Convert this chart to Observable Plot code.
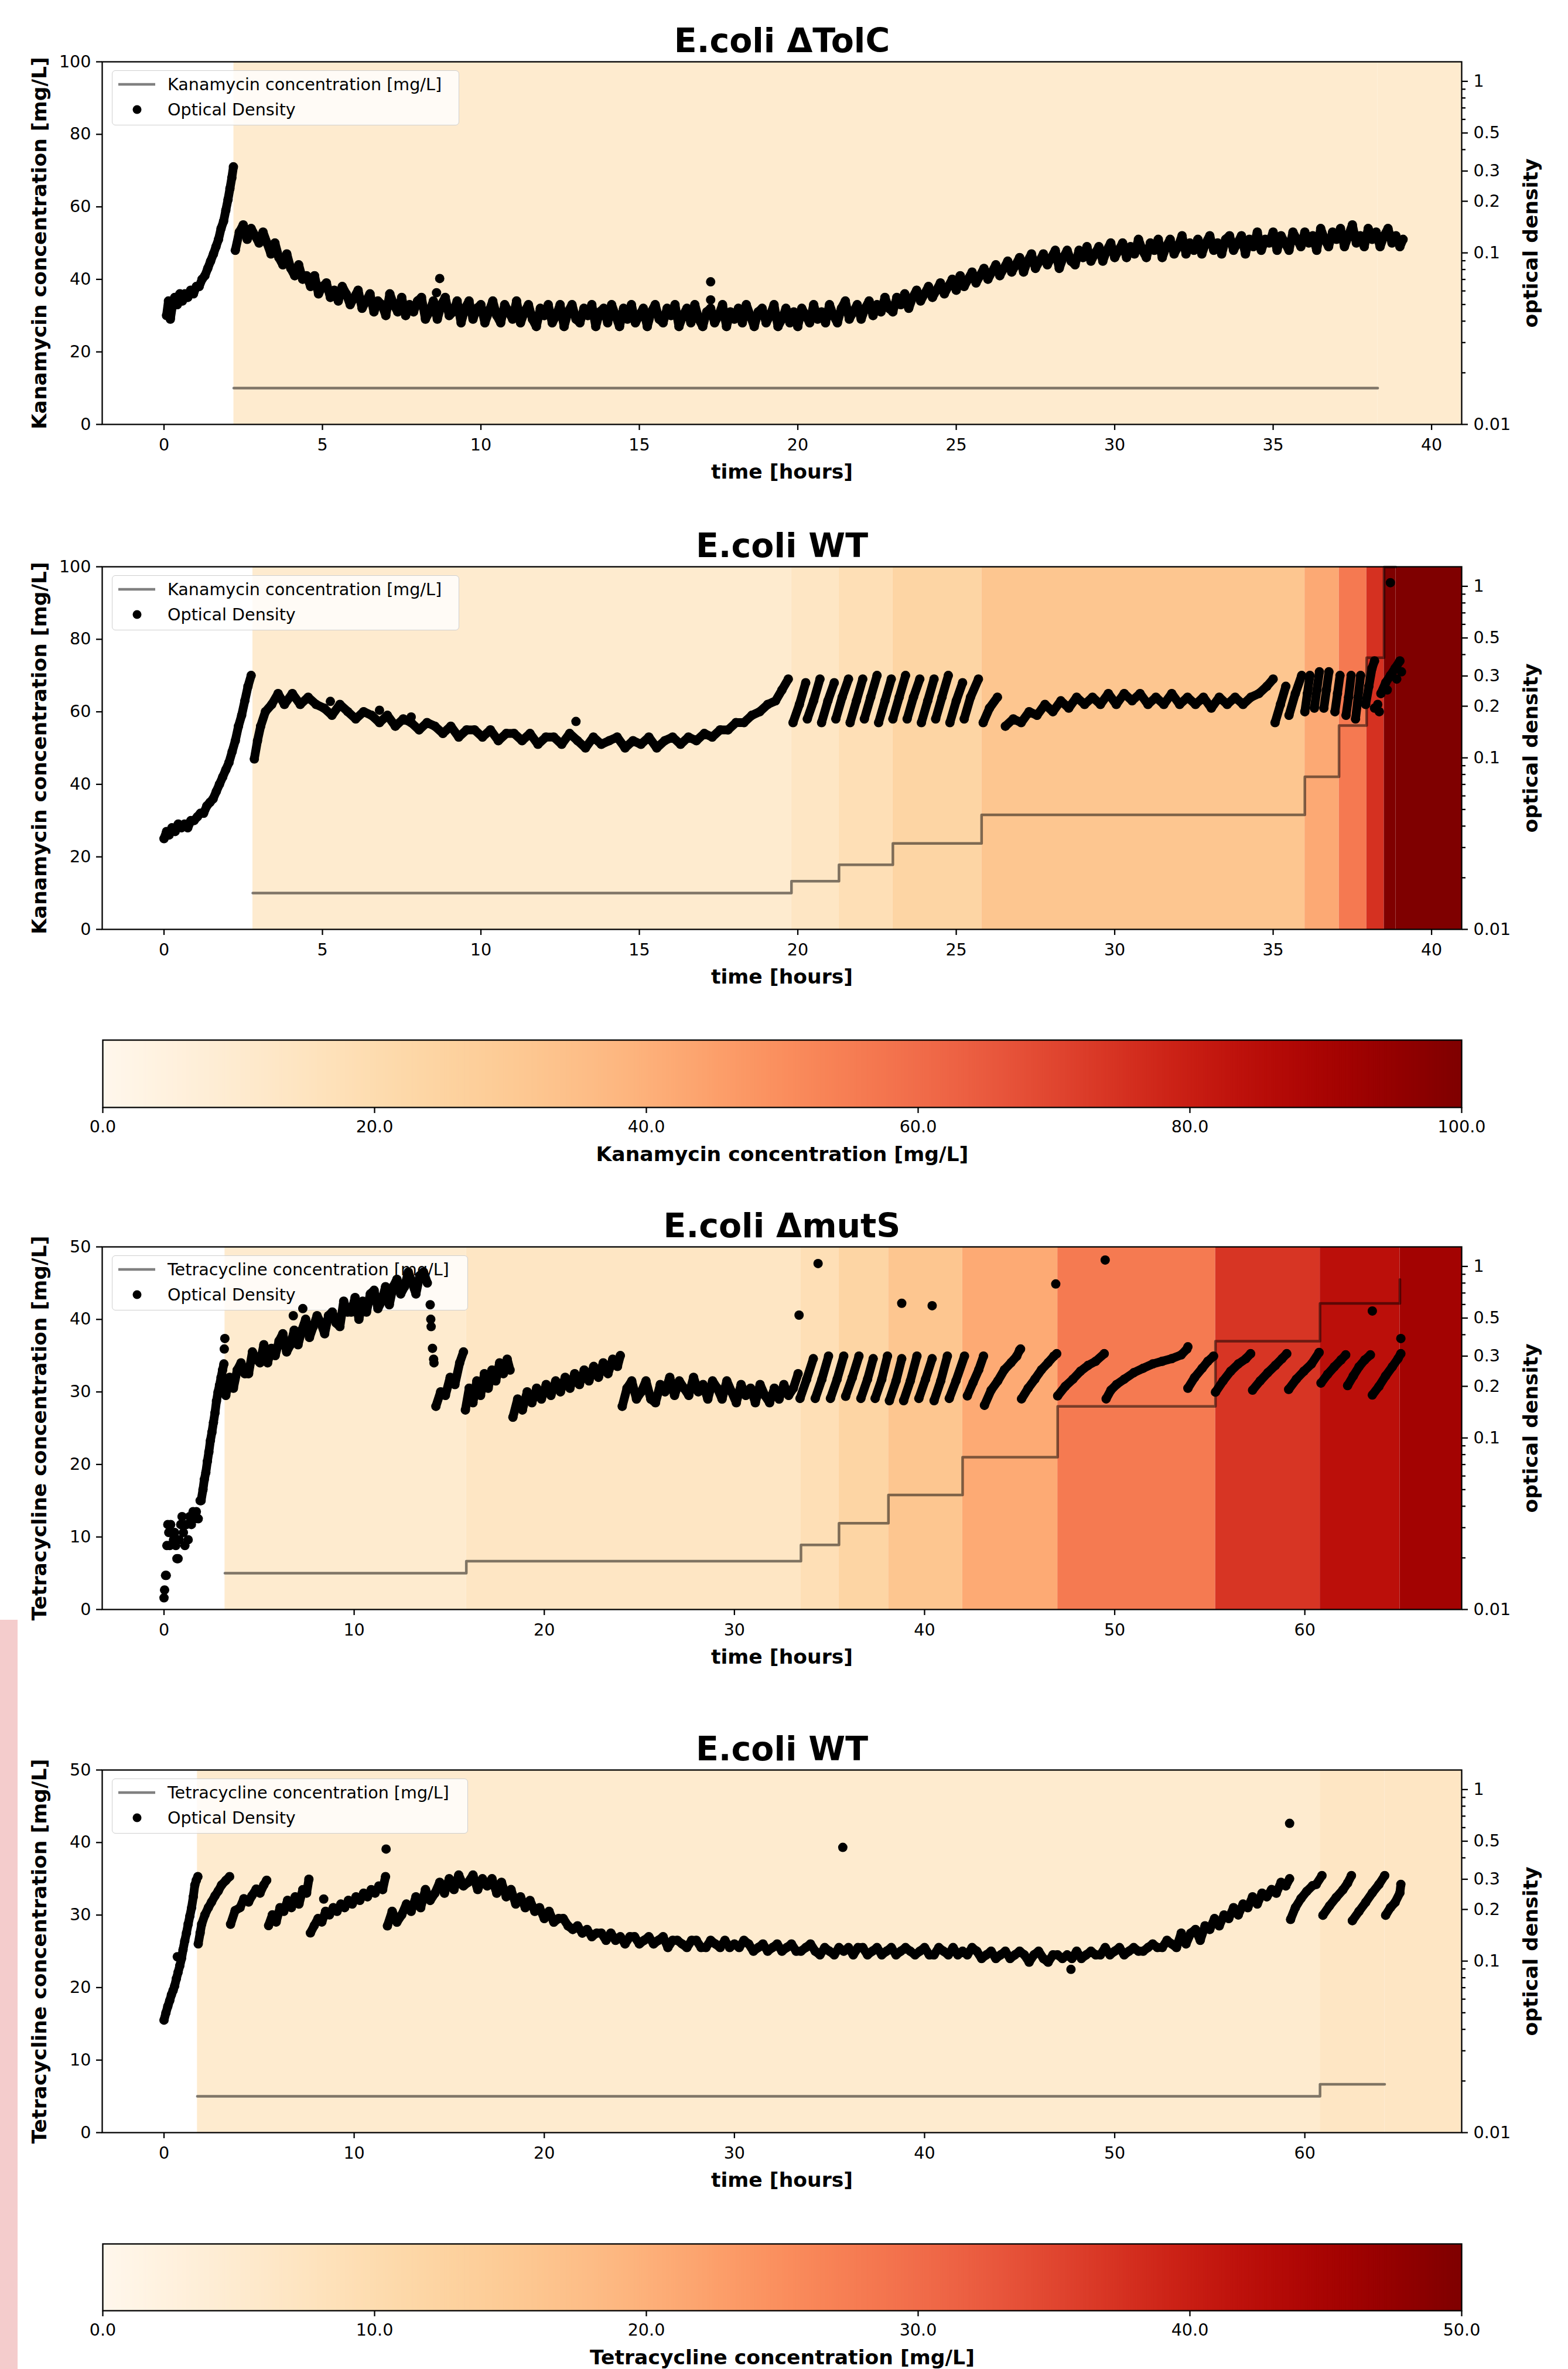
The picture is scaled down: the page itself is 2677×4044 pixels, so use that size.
<!DOCTYPE html>
<html><head><meta charset="utf-8">
<script src="https://cdn.jsdelivr.net/npm/d3@7"></script>
<script src="https://cdn.jsdelivr.net/npm/@observablehq/plot@0.6"></script>
<style>
html,body{margin:0;padding:0;background:#fff;width:2677px;height:4044px;overflow:hidden;font-family:"DejaVu Sans",sans-serif;}
#root{position:relative;width:2677px;height:4044px;overflow:hidden;}
.panel{position:absolute;left:0;width:2677px;}
.panel>svg,.panel>div.lg{position:absolute;}
.lg{background:rgba(255,255,255,0.8);border:1.5px solid #cfcfcf;border-radius:6px;box-sizing:border-box;}
#pink{position:absolute;left:0;top:2765px;width:30px;height:1279px;background:#f4cccc;}
</style></head>
<body><div id="root"><div id="pink"></div></div>
<script>
// ---------------- DATA ----------------
const ticksKanTime = [0, 5, 10, 15, 20, 25, 30, 35, 40];
const ticksTetTime = [0, 10, 20, 30, 40, 50, 60];
const ticksKanConc = [0, 20, 40, 60, 80, 100];
const ticksTetConc = [0, 10, 20, 30, 40, 50];
const ticksOD = [0.01, 0.1, 0.2, 0.3, 0.5, 1];
const ticksODMinor = [0.02, 0.03, 0.04, 0.05, 0.06, 0.07, 0.08, 0.09, 0.4, 0.6, 0.7, 0.8, 0.9];
const ticksCbKan = [0, 20, 40, 60, 80, 100];
const ticksCbTet = [0, 10, 20, 30, 40, 50];

// antibiotic concentration steps: start time [hours] / concentration [mg/L]
const tolcStepTimes = [2.2, 38.3];
const tolcStepConc  = [10, 10];
const wtKanStepTimes = [2.8, 19.8, 21.3, 23.0, 25.8, 36.0, 37.08, 37.95, 38.5, 38.87];
const wtKanStepConc  = [10, 13.3, 17.8, 23.7, 31.6, 42.1, 56.2, 74.9, 99.9, 99.9];
const mutsStepTimes = [3.2, 15.9, 33.5, 35.5, 38.1, 42.0, 47.0, 55.3, 60.8, 65.0];
const mutsStepConc  = [5, 6.67, 8.9, 11.9, 15.8, 21.0, 28.0, 37.0, 42.2, 45.5];
const wtTetStepTimes = [1.75, 60.8, 64.2];
const wtTetStepConc  = [5, 6.67, 6.67];

// optical density readings [hours, OD], grouped in runs between dilutions
const odTolCRuns = [
 [[0.08,.0431],[0.14,.0524],[0.2,.0411],[0.27,.0499],[0.34,.055],[0.42,.0499],[0.5,.0577],[0.58,.0524],[0.66,.0577],[0.75,.055],[0.84,.0606],[0.93,.0577],[1.02,.0637],[1.11,.0637],[1.2,.0702],[1.29,.0736],[1.38,.0812],[1.47,.0895],[1.56,.0986],[1.64,.1087],[1.72,.1199],[1.8,.1387],[1.88,.1529],[1.95,.177],[2.02,.2048],[2.08,.237],[2.14,.2742],[2.19,.3173]],
 [[2.25,.1035],[2.375,.1321],[2.5,.1456],[2.625,.1199],[2.75,.1387],[2.875,.1259],[3.0,.1142],[3.125,.1321],[3.25,.1142],[3.375,.0986],[3.5,.1142],[3.625,.0939],[3.75,.0852],[3.875,.0986],[4.0,.0812],[4.125,.0736],[4.25,.0852],[4.375,.0702],[4.5,.0736],[4.625,.0637],[4.75,.0736],[4.875,.0577],[5.0,.0637],[5.125,.0668],[5.25,.055],[5.375,.0606],[5.5,.0524],[5.625,.0637],[5.75,.0577],[5.875,.0499],[6.0,.055],[6.125,.0606],[6.25,.0475],[6.375,.0524],[6.5,.0577],[6.625,.0453],[6.75,.0524],[6.875,.0499],[7.0,.0431],[7.125,.0577],[7.25,.0499],[7.375,.0453],[7.5,.055],[7.625,.0431],[7.75,.0499],[7.875,.0453],[8.0,.0524],[8.125,.055],[8.25,.0411],[8.375,.0453],[8.5,.0524],[8.625,.0411],[8.75,.0499],[8.875,.055],[9.0,.0431],[9.125,.0453],[9.25,.0524],[9.375,.0391],[9.5,.0475],[9.625,.0524],[9.75,.0411],[9.875,.0475],[10.0,.0499],[10.125,.0391],[10.25,.0453],[10.375,.0524],[10.5,.0431],[10.625,.0391],[10.75,.0499],[10.875,.0453],[11.0,.0411],[11.125,.0524],[11.25,.0391],[11.375,.0453],[11.5,.0499],[11.625,.0411],[11.75,.0372],[11.875,.0475],[12.0,.0431],[12.125,.0499],[12.25,.0391],[12.375,.0431],[12.5,.0499],[12.625,.0372],[12.75,.0453],[12.875,.0499],[13.0,.0411],[13.125,.0391],[13.25,.0475],[13.375,.0431],[13.5,.0499],[13.625,.0372],[13.75,.0453],[13.875,.0475],[14.0,.0391],[14.125,.0499],[14.25,.0431],[14.375,.0372],[14.5,.0475],[14.625,.0411],[14.75,.0499],[14.875,.0391],[15.0,.0431],[15.125,.0475],[15.25,.0372],[15.375,.0453],[15.5,.0499],[15.625,.0411],[15.75,.0391],[15.875,.0475],[16.0,.0431],[16.125,.0499],[16.25,.0372],[16.375,.0431],[16.5,.0475],[16.625,.0391],[16.75,.0499],[16.875,.0411],[17.0,.0372],[17.125,.0453],[17.25,.0475],[17.375,.0391],[17.5,.0431],[17.625,.0499],[17.75,.0372],[17.875,.0453],[18.0,.0411],[18.125,.0475],[18.25,.0391],[18.375,.0499],[18.5,.0431],[18.625,.0372],[18.75,.0453],[18.875,.0475],[19.0,.0391],[19.125,.0431],[19.25,.0499],[19.375,.0372],[19.5,.0411],[19.625,.0475],[19.75,.0391],[19.875,.0453],[20.0,.0372],[20.125,.0475],[20.25,.0431],[20.375,.0391],[20.5,.0499],[20.625,.0411],[20.75,.0453],[20.875,.0391],[21.0,.0499],[21.125,.0431],[21.25,.0391],[21.375,.0475],[21.5,.0524],[21.625,.0411],[21.75,.0453],[21.875,.0499],[22.0,.0411],[22.125,.0475],[22.25,.0524],[22.375,.0431],[22.5,.0499],[22.625,.0453],[22.75,.055],[22.875,.0475],[23.0,.0453],[23.125,.055],[23.25,.0499],[23.375,.0577],[23.5,.0475],[23.625,.055],[23.75,.0606],[23.875,.0524],[24.0,.0577],[24.125,.0637],[24.25,.055],[24.375,.0606],[24.5,.0668],[24.625,.0577],[24.75,.0637],[24.875,.0702],[25.0,.0606],[25.125,.0736],[25.25,.0637],[25.375,.0702],[25.5,.0773],[25.625,.0668],[25.75,.0736],[25.875,.0812],[26.0,.0702],[26.125,.0773],[26.25,.0852],[26.375,.0736],[26.5,.0812],[26.625,.0895],[26.75,.0773],[26.875,.0852],[27.0,.0939],[27.125,.0773],[27.25,.0895],[27.375,.0986],[27.5,.0812],[27.625,.0895],[27.75,.0986],[27.875,.0852],[28.0,.0939],[28.125,.1035],[28.25,.0812],[28.375,.0939],[28.5,.1035],[28.625,.0895],[28.75,.0852],[28.875,.1035],[29.0,.0939],[29.125,.1087],[29.25,.0895],[29.375,.0986],[29.5,.1087],[29.625,.0895],[29.75,.1035],[29.875,.1142],[30.0,.0939],[30.125,.1035],[30.25,.1142],[30.375,.0939],[30.5,.1087],[30.625,.0986],[30.75,.1199],[30.875,.1035],[31.0,.0939],[31.125,.1142],[31.25,.1035],[31.375,.1199],[31.5,.0939],[31.625,.1087],[31.75,.1199],[31.875,.0986],[32.0,.1087],[32.125,.1259],[32.25,.0986],[32.375,.1142],[32.5,.1035],[32.625,.1199],[32.75,.0986],[32.875,.1142],[33.0,.1259],[33.125,.1035],[33.25,.1142],[33.375,.0986],[33.5,.1199],[33.625,.1259],[33.75,.1035],[33.875,.1142],[34.0,.1259],[34.125,.0986],[34.25,.1199],[34.375,.1087],[34.5,.1321],[34.625,.1035],[34.75,.1199],[34.875,.1142],[35.0,.1321],[35.125,.1035],[35.25,.1259],[35.375,.1142],[35.5,.1035],[35.625,.1321],[35.75,.1199],[35.875,.1087],[36.0,.1321],[36.125,.1142],[36.25,.1259],[36.375,.1035],[36.5,.1387],[36.625,.1199],[36.75,.1087],[36.875,.1321],[37.0,.1199],[37.125,.1387],[37.25,.1087],[37.375,.1259],[37.5,.1456],[37.625,.1142],[37.75,.1259],[37.875,.1087],[38.0,.1387],[38.125,.1199],[38.25,.1321],[38.375,.1087],[38.5,.1259],[38.625,.1387],[38.75,.1142],[38.875,.1259],[39.0,.1087],[39.1,.1199]]
];
const odTolCSingles = [[8.6,.0586],[8.7,.0709],[17.25,.0532],[17.25,.0678]];

const odWTKanRuns = [
 [[0,.0338],[0.08,.0372],[0.16,.0355],[0.25,.0391],[0.35,.0372],[0.45,.0411],[0.55,.0391],[0.65,.0411],[0.75,.0391],[0.85,.0431],[0.95,.0431],[1.05,.0453],[1.15,.0475],[1.25,.0475],[1.35,.0524],[1.45,.055],[1.55,.0577],[1.65,.0637],[1.75,.0702],[1.85,.0773],[1.95,.0852],[2.05,.0939],[2.15,.1087],[2.25,.1259],[2.35,.1529],[2.45,.177],[2.55,.215],[2.65,.2612],[2.75,.3022]],
 [[2.85,.0986],[2.95,.1259],[3.05,.1529],[3.2,.1858],[3.4,.2048],[3.6,.237],[3.8,.2048],[4.05,.237],[4.3,.2048],[4.55,.2257],[4.8,.2048],[5.05,.195],[5.3,.177],[5.55,.2048],[5.8,.1858],[6.05,.1686],[6.3,.1858],[6.55,.177],[6.8,.1605],[7.05,.177],[7.3,.1529],[7.55,.1686],[7.8,.1605],[8.05,.1456],[8.3,.1605],[8.55,.1529],[8.8,.1387],[9.05,.1529],[9.3,.1321],[9.55,.1456],[9.8,.1456],[10.05,.1321],[10.3,.1456],[10.55,.1259],[10.8,.1387],[11.05,.1387],[11.3,.1259],[11.55,.1387],[11.8,.1199],[12.05,.1321],[12.3,.1321],[12.55,.1199],[12.8,.1387],[13.05,.1259],[13.3,.1142],[13.55,.1321],[13.8,.1199],[14.05,.1259],[14.3,.1321],[14.55,.1142],[14.8,.1259],[15.05,.1199],[15.3,.1321],[15.55,.1142],[15.8,.1259],[16.05,.1321],[16.3,.1199],[16.55,.1321],[16.8,.1259],[17.05,.1387],[17.3,.1321],[17.55,.1456],[17.8,.1456],[18.05,.1605],[18.3,.1605],[18.55,.177],[18.8,.1858],[19.05,.2048],[19.3,.215],[19.5,.2488],[19.7,.2879]],
 [[19.85,.1605],[20.05,.2048],[20.25,.2742]],
 [[20.3,.1686],[20.5,.215],[20.7,.2879]],
 [[20.75,.1605],[20.95,.215],[21.15,.2742]],
 [[21.2,.1686],[21.4,.2257],[21.6,.2879]],
 [[21.65,.1605],[21.85,.215],[22.05,.2879]],
 [[22.1,.1686],[22.3,.2257],[22.5,.3022]],
 [[22.55,.1605],[22.75,.215],[22.95,.2879]],
 [[23.0,.1686],[23.2,.2257],[23.4,.3022]],
 [[23.45,.1686],[23.65,.2257],[23.85,.2879]],
 [[23.9,.1605],[24.1,.215],[24.3,.2879]],
 [[24.35,.1686],[24.55,.2257],[24.75,.3022]],
 [[24.8,.1605],[25.0,.215],[25.2,.2742]],
 [[25.25,.1686],[25.45,.2257],[25.7,.2879]],
 [[25.85,.1605],[26.05,.195],[26.3,.2257]],
 [[26.55,.1529],[26.8,.1686],[27.05,.1605],[27.3,.1858],[27.55,.177],[27.8,.2048],[28.05,.1858],[28.3,.215],[28.55,.195],[28.8,.2257],[29.05,.2048],[29.3,.2257],[29.55,.2048],[29.8,.237],[30.05,.2048],[30.3,.237],[30.55,.215],[30.8,.237],[31.05,.2048],[31.3,.2257],[31.55,.2048],[31.8,.237],[32.05,.2048],[32.3,.2257],[32.55,.2048],[32.8,.2257],[33.05,.195],[33.3,.2257],[33.55,.2048],[33.8,.2257],[34.05,.2048],[34.3,.2257],[34.55,.237],[34.8,.2612],[35.0,.2879]],
 [[35.06,.1605],[35.23,.2048],[35.4,.2612]],
 [[35.5,.177],[35.7,.237],[35.9,.3022]],
 [[36.0,.1858],[36.08,.237],[36.16,.3022]],
 [[36.3,.195],[36.38,.2488],[36.46,.3173]],
 [[36.6,.195],[36.68,.2488],[36.76,.3173]],
 [[36.95,.1858],[37.03,.237],[37.11,.3022]],
 [[37.3,.177],[37.38,.2257],[37.46,.3022]],
 [[37.6,.1686],[37.68,.2257],[37.76,.3022]],
 [[37.92,.2048],[38.02,.2612],[38.12,.3331],[38.2,.3672]],
 [[38.4,.237],[38.55,.2742],[38.7,.3022],[38.85,.3331],[39.0,.3672]]
];
const odWTKanSingles = [[5.25,.2133],[6.8,.1895],[7.8,.173],[13.0,.163],[38.2,.195],[38.3,.2048],[38.35,.1858],[38.6,.2488],[38.9,.2879],[39.05,.3173],[38.7,1.05]];

const odMutSRuns = [
 [[1.95,.0431],[2.05,.05],[2.12,.0572],[2.2,.063],[2.28,.073],[2.36,.083],[2.44,.0966],[2.52,.108],[2.6,.123],[2.68,.14],[2.76,.164],[2.84,.185],[2.92,.203],[3.0,.225],[3.08,.249],[3.15,.27]],
 [[3.25,.177],[3.45,.2257],[3.65,.195],[3.85,.2488],[4.05,.2742],[4.25,.237],[4.45,.237],[4.65,.3173],[4.85,.2879],[5.05,.2742],[5.25,.3497],[5.45,.2742],[5.65,.3331],[5.85,.3022],[6.05,.3672],[6.25,.405],[6.45,.3173],[6.65,.3497],[6.85,.425],[7.05,.3497],[7.25,.425],[7.45,.492],[7.65,.3855],[7.85,.446],[8.05,.516],[8.25,.468],[8.45,.405],[8.65,.516],[8.85,.542],[9.05,.468],[9.25,.446],[9.45,.627],[9.65,.542],[9.85,.542],[10.05,.659],[10.25,.492],[10.45,.627],[10.65,.542],[10.85,.691],[11.05,.726],[11.25,.568],[11.45,.627],[11.65,.762],[11.85,.598],[12.05,.762],[12.25,.841],[12.45,.691],[12.65,.762],[12.85,.927],[13.05,.801],[13.25,.691],[13.45,.883],[13.65,.927],[13.85,.801]],
 [[14.3,.1529],[14.55,.1858],[14.8,.177],[15.05,.2257],[15.3,.2048],[15.55,.2742],[15.75,.3173]],
 [[15.85,.1456],[16.05,.195],[16.25,.1605],[16.45,.215],[16.65,.177],[16.85,.237],[17.05,.195],[17.25,.2488],[17.45,.215],[17.65,.2742],[17.85,.237],[18.05,.2879],[18.2,.2488]],
 [[18.35,.1321],[18.6,.1686],[18.85,.1456],[19.1,.1858],[19.35,.1605],[19.6,.195],[19.85,.1686],[20.1,.2048],[20.35,.177],[20.6,.215],[20.85,.1858],[21.1,.2257],[21.35,.195],[21.6,.237],[21.85,.2048],[22.1,.2488],[22.35,.215],[22.6,.2612],[22.85,.2257],[23.1,.2742],[23.35,.237],[23.6,.2879],[23.85,.2612],[24.0,.3022]],
 [[24.1,.1529],[24.35,.195],[24.6,.215],[24.85,.1686],[25.1,.1858],[25.35,.215],[25.6,.1686],[25.85,.1605],[26.1,.2048],[26.35,.1858],[26.6,.2257],[26.85,.177],[27.1,.215],[27.35,.195],[27.6,.177],[27.85,.2257],[28.1,.1858],[28.35,.2048],[28.6,.1686],[28.85,.215],[29.1,.195],[29.35,.1686],[29.6,.215],[29.85,.1858],[30.1,.1605],[30.35,.2048],[30.6,.177],[30.85,.195],[31.1,.1605],[31.35,.2048],[31.6,.177],[31.85,.1605],[32.1,.195],[32.35,.1686],[32.6,.2048],[32.85,.177],[33.1,.195],[33.35,.237]],
 [[33.45,.17],[33.8,.22],[34.15,.29]],
 [[34.25,.17],[34.6,.22],[34.95,.30]],
 [[35.05,.17],[35.4,.22],[35.75,.30]],
 [[35.85,.175],[36.2,.225],[36.55,.30]],
 [[36.65,.17],[37.0,.22],[37.3,.29]],
 [[37.4,.17],[37.75,.22],[38.05,.30]],
 [[38.15,.165],[38.5,.215],[38.8,.29]],
 [[38.9,.165],[39.25,.215],[39.6,.30]],
 [[39.7,.17],[40.05,.22],[40.4,.29]],
 [[40.5,.165],[40.85,.215],[41.2,.30]],
 [[41.3,.17],[41.65,.215],[42.1,.30]],
 [[42.25,.176],[42.55,.21],[42.85,.25],[43.1,.30]],
 [[43.15,.155],[43.5,.19],[43.85,.215],[44.2,.25],[44.55,.275],[44.85,.30],[45.0,.325]],
 [[45.1,.169],[45.45,.195],[45.8,.22],[46.15,.25],[46.5,.275],[46.8,.30],[46.95,.31]],
 [[47.0,.176],[47.4,.2],[47.8,.22],[48.2,.245],[48.6,.265],[49.0,.28],[49.45,.31]],
 [[49.55,.169],[49.8,.19],[50.1,.205],[50.5,.22],[51.0,.24],[51.5,.255],[52.0,.27],[52.5,.28],[53.0,.29],[53.5,.305],[53.8,.33]],
 [[53.85,.195],[54.2,.225],[54.6,.255],[54.9,.28],[55.2,.30]],
 [[55.3,.185],[55.7,.215],[56.1,.245],[56.5,.27],[56.9,.29],[57.15,.31]],
 [[57.25,.19],[57.65,.215],[58.05,.24],[58.45,.265],[58.8,.29],[59.05,.31]],
 [[59.15,.192],[59.55,.22],[59.95,.245],[60.35,.27],[60.75,.315]],
 [[60.85,.209],[61.2,.235],[61.55,.26],[61.9,.285],[62.15,.305]],
 [[62.25,.202],[62.55,.23],[62.85,.26],[63.15,.285],[63.45,.305]],
 [[63.55,.178],[63.9,.2],[64.25,.23],[64.6,.26],[64.9,.29],[65.05,.31]]
];
const odMutSSingles = [[0,.0117],[0.03,.013],[0.08,.0158],[0.12,.0158],[0.15,.0236],[0.2,.0313],[0.25,.0281],[0.3,.0236],[0.35,.0313],[0.42,.0281],[0.5,.0255],[0.56,.0281],[0.62,.0236],[0.68,.0198],[0.74,.0198],[0.8,.0255],[0.88,.0313],[0.95,.0348],[1.02,.0281],[1.1,.0236],[1.18,.0313],[1.27,.0255],[1.35,.0348],[1.44,.0313],[1.53,.0372],[1.62,.0338],[1.7,.0372],[1.8,.0338],[1.9,.0431],[3.17,.33],[3.2,.38],[6.8,.516],[7.3,.568],[14.0,.598],[14.03,.492],[14.05,.446],[14.12,.333],[14.18,.288],[14.2,.2742],[33.4,.52],[34.4,1.04],[38.8,.61],[40.4,.59],[45.05,.33],[46.9,.79],[49.5,1.09],[53.85,.34],[63.55,.55],[65.05,.38]];

const odWTTetRuns = [
 [[0,.0453],[0.1,.0499],[0.2,.0545],[0.3,.0588],[0.39,.0637],[0.48,.0675],[0.56,.0716],[0.65,.079],[0.74,.086],[0.83,.0939],[0.92,.1035],[1.0,.1164],[1.09,.131],[1.18,.1456],[1.27,.164],[1.36,.183],[1.45,.2048],[1.54,.237],[1.62,.277],[1.7,.296],[1.78,.311]],
 [[1.8,.126],[1.9,.146],[1.98,.164],[2.15,.186],[2.33,.205],[2.5,.221],[2.68,.24],[2.85,.256],[3.03,.278],[3.25,.295],[3.45,.311]],
 [[3.5,.164],[3.74,.197],[4.0,.205],[4.2,.231],[4.45,.221],[4.62,.24],[4.85,.263],[5.05,.249],[5.25,.278],[5.4,.296]],
 [[5.5,.161],[5.7,.186],[5.9,.169],[6.1,.205],[6.3,.195],[6.5,.226],[6.7,.205],[6.9,.237],[7.1,.215],[7.3,.261],[7.5,.249],[7.62,.30]],
 [[7.7,.146],[7.9,.161],[8.1,.177],[8.3,.169],[8.5,.195],[8.7,.186],[8.9,.205],[9.1,.195],[9.3,.215],[9.5,.205],[9.7,.226],[9.9,.215],[10.1,.237],[10.3,.226],[10.5,.249],[10.7,.237],[10.9,.261],[11.1,.249],[11.3,.274],[11.5,.261],[11.65,.311]],
 [[11.75,.1605],[12.0,.195],[12.25,.1686],[12.5,.1858],[12.75,.215],[13.0,.195],[13.25,.237],[13.5,.2048],[13.75,.2612],[14.0,.2257],[14.25,.2488],[14.5,.2879],[14.75,.2488],[15.0,.3022],[15.25,.2612],[15.5,.3173],[15.75,.2742],[16.0,.2879],[16.25,.3173],[16.5,.2612],[16.75,.3022],[17.0,.2742],[17.25,.3022],[17.5,.2488],[17.75,.2879],[18.0,.237],[18.25,.2612],[18.5,.215],[18.75,.237],[19.0,.2048],[19.25,.2257],[19.5,.195],[19.75,.2048],[20.0,.177],[20.25,.195],[20.5,.1686],[20.75,.177],[21.0,.177],[21.25,.1605],[21.5,.1529],[21.75,.1605],[22.0,.1456],[22.25,.1529],[22.5,.1387],[22.75,.1456],[23.0,.1456],[23.25,.1321],[23.5,.1456],[23.75,.1321],[24.0,.1387],[24.25,.1259],[24.5,.1387],[24.75,.1387],[25.0,.1259],[25.25,.1321],[25.5,.1387],[25.75,.1259],[26.0,.1321],[26.25,.1387],[26.5,.1199],[26.75,.1321],[27.0,.1321],[27.25,.1259],[27.5,.1199],[27.75,.1321],[28.0,.1321],[28.25,.1199],[28.5,.1199],[28.75,.1321],[29.0,.1259],[29.25,.1199],[29.5,.1321],[29.75,.1199],[30.0,.1259],[30.25,.1199],[30.5,.1321],[30.75,.1259],[31.0,.1142],[31.25,.1199],[31.5,.1259],[31.75,.1142],[32.0,.1199],[32.25,.1259],[32.5,.1142],[32.75,.1199],[33.0,.1259],[33.25,.1142],[33.5,.1142],[33.75,.1199],[34.0,.1259],[34.25,.1142],[34.5,.1087],[34.75,.1199],[35.0,.1142],[35.25,.1087],[35.5,.1199],[35.75,.1142],[36.0,.1199],[36.25,.1087],[36.5,.1199],[36.75,.1199],[37.0,.1087],[37.25,.1142],[37.5,.1199],[37.75,.1087],[38.0,.1142],[38.25,.1199],[38.5,.1087],[38.75,.1142],[39.0,.1199],[39.25,.1142],[39.5,.1087],[39.75,.1142],[40.0,.1199],[40.25,.1087],[40.5,.1087],[40.75,.1199],[41.0,.1142],[41.25,.1087],[41.5,.1199],[41.75,.1087],[42.0,.1142],[42.25,.1087],[42.5,.1199],[42.75,.1142],[43.0,.1035],[43.25,.1087],[43.5,.1142],[43.75,.1035],[44.0,.1087],[44.25,.1142],[44.5,.1035],[44.75,.1087],[45.0,.1142],[45.25,.1087],[45.5,.0986],[45.75,.1087],[46.0,.1142],[46.25,.1035],[46.5,.0986],[46.75,.1087],[47.0,.1087],[47.25,.1035],[47.5,.1087],[47.75,.1035],[48.0,.1142],[48.25,.1035],[48.5,.1087],[48.75,.1142],[49.0,.1087],[49.25,.1087],[49.5,.1199],[49.75,.1087],[50.0,.1142],[50.25,.1199],[50.5,.1087],[50.75,.1142],[51.0,.1199],[51.25,.1142],[51.5,.1142],[51.75,.1199],[52.0,.1259],[52.25,.1199],[52.5,.1199],[52.75,.1321],[53.0,.1259],[53.25,.1199],[53.5,.1456],[53.75,.1259],[54.0,.1456],[54.25,.1529],[54.5,.1321],[54.75,.1605],[55.0,.1529],[55.25,.177],[55.5,.1605],[55.75,.1858],[56.0,.177],[56.25,.2048],[56.5,.1858],[56.75,.215],[57.0,.2048],[57.25,.237],[57.5,.215],[57.75,.2488],[58.0,.237],[58.25,.2612],[58.5,.2488],[58.75,.2879],[59.0,.2742],[59.2,.3022]],
 [[59.25,.175],[59.5,.205],[59.8,.232],[60.1,.255],[60.4,.275],[60.6,.28],[60.9,.315]],
 [[60.95,.185],[61.3,.21],[61.65,.235],[62.0,.26],[62.25,.285],[62.45,.315]],
 [[62.5,.172],[62.85,.195],[63.2,.22],[63.55,.25],[63.9,.28],[64.2,.315]],
 [[64.25,.185],[64.5,.205],[64.75,.22],[65.0,.25],[65.05,.28]]
];
const odWTTetSingles = [[0.7,.106],[8.4,.23],[11.68,.45],[35.7,.46],[47.7,.0895],[59.2,.635]];

// ---------------- LAYOUT ----------------
const W = 2677, ML = 174, MR = 182, FH = 619, MT = 110, MB = 120, H = MT + FH + MB;
const FONT = "DejaVu Sans, sans-serif";
const root = document.getElementById("root");

function flatten(runs) {
  const out = [];
  runs.forEach((run, i) => run.forEach(([t, od]) => out.push({t, od, run: i})));
  return out;
}

function panel(cfg) {
  const div = document.createElement("div");
  div.className = "panel";
  div.style.top = (cfg.top - MT) + "px";
  div.style.height = H + "px";
  const patches = cfg.stepTimes.map((t, i) => ({
    x1: t, x2: i < cfg.stepTimes.length - 1 ? cfg.stepTimes[i + 1] : cfg.xDomain[1], c: cfg.stepConc[i]
  }));
  const steps = cfg.stepTimes.map((t, i) => ({t, c: cfg.stepConc[i]}));
  const base = Plot.plot({
    width: W, height: H, marginLeft: ML, marginRight: MR, marginTop: MT, marginBottom: MB,
    style: {fontFamily: FONT, background: "transparent", overflow: "visible", color: "black"},
    x: {domain: cfg.xDomain},
    y: {domain: [0, cfg.concMax]},
    color: {type: "linear", scheme: "OrRd", domain: [0, cfg.concMax]},
    marks: [
      Plot.rect(patches, {x1: "x1", x2: "x2", y1: 0, y2: cfg.concMax, fill: "c"}),
      Plot.line(steps, {x: "t", y: "c", curve: "step-after", stroke: "black", strokeOpacity: 0.5, strokeWidth: 4.5}),
      Plot.frame({stroke: "black", strokeWidth: 2.3}),
      Plot.axisX({ticks: cfg.xTicks, tickFormat: d => String(d), tickSize: 10, tickPadding: 14, fontSize: 28.6, strokeWidth: 2.3, label: null}),
      Plot.axisY({ticks: cfg.concTicks, tickFormat: d => String(d), tickSize: 10, tickPadding: 9, fontSize: 28.6, strokeWidth: 2.3, label: null}),
      Plot.text([cfg.title], {text: d => d, frameAnchor: "top", dy: -17, lineAnchor: "bottom", textAnchor: "middle", fontSize: 57, fontWeight: "bold"}),
      Plot.text(["time [hours]"], {text: d => d, frameAnchor: "bottom", dy: 81, textAnchor: "middle", lineAnchor: "middle", fontSize: 34.6, fontWeight: "bold"}),
      Plot.text([cfg.concLabel], {text: d => d, frameAnchor: "left", dx: -107, rotate: -90, textAnchor: "middle", lineAnchor: "middle", fontSize: 34.6, fontWeight: "bold"})
    ]
  });
  base.style.left = "0px"; base.style.top = "0px";
  div.appendChild(base);

  const lg = document.createElement("div");
  lg.className = "lg";
  lg.style.left = "191px"; lg.style.top = (MT + 15) + "px";
  lg.style.width = cfg.legendWidth + "px"; lg.style.height = "94px";
  lg.innerHTML = `<svg width="${cfg.legendWidth}" height="94" style="position:absolute;left:0;top:0;overflow:visible" font-family="DejaVu Sans" font-size="28.6">
    <line x1="10" x2="73" y1="23" y2="23" stroke="#808080" stroke-width="4.5"/>
    <circle cx="42" cy="66" r="7.5" fill="black"/>
    <text x="94" y="23" dy="0.36em">${cfg.legendLabel}</text>
    <text x="94" y="66" dy="0.36em">Optical Density</text></svg>`;
  div.appendChild(lg);

  const flat = flatten(cfg.runs);
  const singles = cfg.singles.map(([t, od]) => ({t, od}));
  const over = Plot.plot({
    width: W, height: H, marginLeft: ML, marginRight: MR, marginTop: MT, marginBottom: MB,
    style: {fontFamily: FONT, background: "transparent", overflow: "visible", color: "black"},
    x: {domain: cfg.xDomain, axis: null},
    y: {type: "log", domain: [0.01, 1.3]},
    marks: [
      Plot.line(flat, {x: "t", y: "od", z: "run", stroke: "black", strokeWidth: 15, strokeLinecap: "round", strokeLinejoin: "round", clip: true}),
      Plot.dot(flat.concat(singles), {x: "t", y: "od", r: 8, fill: "black", clip: true}),
      Plot.axisY({anchor: "right", ticks: ticksOD, tickFormat: d => String(d), tickSize: 10, tickPadding: 10, fontSize: 28.6, strokeWidth: 2.3, label: null}),
      Plot.axisY({anchor: "right", ticks: ticksODMinor, tickFormat: () => "", tickSize: 6, strokeWidth: 2.3, label: null}),
      Plot.text(["optical density"], {text: d => d, frameAnchor: "right", dx: 118, rotate: -90, textAnchor: "middle", lineAnchor: "middle", fontSize: 34.6, fontWeight: "bold"})
    ]
  });
  over.style.left = "0px"; over.style.top = "0px";
  div.appendChild(over);
  root.appendChild(div);
}

function colorbar(cfg) {
  const div = document.createElement("div");
  div.className = "panel";
  div.style.top = cfg.top + "px";
  const h = cfg.barH + 130;
  div.style.height = h + "px";
  const step = cfg.max / 600;
  const cells = d3.range(0, cfg.max, step).map(v => ({v}));
  const p = Plot.plot({
    width: W, height: h, marginLeft: ML + 1, marginRight: MR, marginTop: 0, marginBottom: 130,
    style: {fontFamily: FONT, background: "transparent", overflow: "visible", color: "black"},
    x: {domain: [0, cfg.max]},
    y: {domain: [0, 1], axis: null},
    color: {type: "linear", scheme: "OrRd", domain: [0, cfg.max]},
    marks: [
      Plot.rect(cells, {x1: "v", x2: d => Math.min(cfg.max, d.v + step * 1.6), y1: 0, y2: 1, fill: "v"}),
      Plot.frame({stroke: "black", strokeWidth: 2.3}),
      Plot.axisX({ticks: cfg.ticks, tickFormat: d => d.toFixed(1), tickSize: 10, tickPadding: 12, fontSize: 28.6, strokeWidth: 2.3, label: null}),
      Plot.text([cfg.label], {text: d => d, frameAnchor: "bottom", dy: cfg.labelDy, textAnchor: "middle", lineAnchor: "middle", fontSize: 34.6, fontWeight: "bold"})
    ]
  });
  p.style.left = "0px"; p.style.top = "0px";
  div.appendChild(p);
  root.appendChild(div);
}

panel({top: 105, title: "E.coli ΔTolC", xDomain: [-1.95, 40.95], xTicks: ticksKanTime, concMax: 100, concTicks: ticksKanConc,
  concLabel: "Kanamycin concentration [mg/L]", legendLabel: "Kanamycin concentration [mg/L]", legendWidth: 593,
  stepTimes: tolcStepTimes, stepConc: tolcStepConc, runs: odTolCRuns, singles: odTolCSingles});
panel({top: 967, title: "E.coli WT", xDomain: [-1.95, 40.95], xTicks: ticksKanTime, concMax: 100, concTicks: ticksKanConc,
  concLabel: "Kanamycin concentration [mg/L]", legendLabel: "Kanamycin concentration [mg/L]", legendWidth: 593,
  stepTimes: wtKanStepTimes, stepConc: wtKanStepConc, runs: odWTKanRuns, singles: odWTKanSingles});
colorbar({top: 1775, barH: 115, max: 100, ticks: ticksCbKan, label: "Kanamycin concentration [mg/L]", labelDy: 80});
panel({top: 2128, title: "E.coli ΔmutS", xDomain: [-3.25, 68.25], xTicks: ticksTetTime, concMax: 50, concTicks: ticksTetConc,
  concLabel: "Tetracycline concentration [mg/L]", legendLabel: "Tetracycline concentration [mg/L]", legendWidth: 608,
  stepTimes: mutsStepTimes, stepConc: mutsStepConc, runs: odMutSRuns, singles: odMutSSingles});
panel({top: 3021, title: "E.coli WT", xDomain: [-3.25, 68.25], xTicks: ticksTetTime, concMax: 50, concTicks: ticksTetConc,
  concLabel: "Tetracycline concentration [mg/L]", legendLabel: "Tetracycline concentration [mg/L]", legendWidth: 608,
  stepTimes: wtTetStepTimes, stepConc: wtTetStepConc, runs: odWTTetRuns, singles: odWTTetSingles});
colorbar({top: 3830, barH: 114, max: 50, ticks: ticksCbTet, label: "Tetracycline concentration [mg/L]", labelDy: 80});
</script></body></html>
